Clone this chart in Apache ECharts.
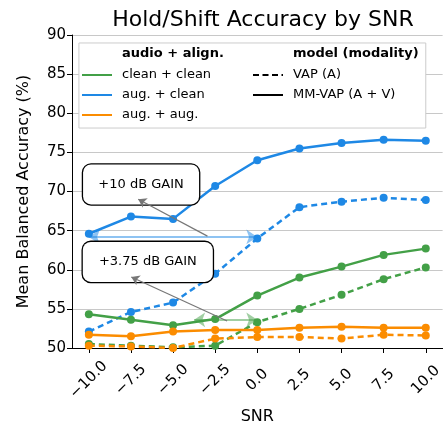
<!DOCTYPE html>
<html>
<head>
<meta charset="utf-8">
<script src="https://cdn.jsdelivr.net/npm/echarts@6/dist/echarts.min.js"></script>
<style>
  html, body { margin: 0; padding: 0; background: #fff; }
  #chart { width: 445px; height: 430px; }
</style>
</head>
<body>
<div id="chart"></div>
<script>
// SNR values (dB)
var snr = [-10, -7.5, -5, -2.5, 0, 2.5, 5, 7.5, 10];

// MM-VAP (A + V) - solid lines
var mmClean = [54.3, 53.6, 52.9, 53.7, 56.7, 59.0, 60.4, 61.9, 62.7];
var mmAugClean = [64.6, 66.8, 66.5, 70.7, 74.0, 75.5, 76.2, 76.6, 76.5];
var mmAugAug = [51.7, 51.5, 52.1, 52.3, 52.3, 52.6, 52.7, 52.6, 52.6];

// VAP (A) - dashed lines
var vapClean = [50.5, 50.3, 50.1, 50.3, 53.3, 55.0, 56.8, 58.8, 60.3];
var vapAugClean = [52.1, 54.6, 55.8, 59.5, 64.0, 68.0, 68.7, 69.2, 68.9];
var vapAugAug = [50.3, 50.2, 50.0, 51.2, 51.4, 51.4, 51.2, 51.7, 51.6];

var xTicks = [-10, -7.5, -5, -2.5, 0, 2.5, 5, 7.5, 10];

var GREEN = '#43a047', BLUE = '#1e88e5', ORANGE = '#fb8c00';
var FONT = 'DejaVu Sans';

function pairs(ys) {
  return snr.map(function (x, i) { return [x, ys[i]]; });
}

function lineSeries(name, ys, color, dashed, z) {
  return {
    name: name,
    type: 'line',
    data: pairs(ys),
    symbol: 'circle',
    symbolSize: 8,
    z: z,
    itemStyle: { color: color },
    lineStyle: { color: color, width: 2.5, type: dashed ? [6, 4] : 'solid' },
    animation: false
  };
}

function boxLabel(text, w) {
  return {
    show: true, position: 'inside', formatter: text,
    fontFamily: FONT, fontSize: 13, color: '#000',
    backgroundColor: '#fff', borderColor: '#000', borderWidth: 1.3, borderRadius: 8,
    width: w, height: 40, lineHeight: 40, align: 'center', verticalAlign: 'middle'
  };
}

// legend drawn by hand (two titled columns), offset from the legend box corner
var LX = 78, LY = 43;
function legendText(x, y, text, bold) {
  return { type: 'text', x: LX + x, y: LY + y, zlevel: 1, z: 101,
    style: { text: text, font: (bold ? 'bold ' : '') + '13px "DejaVu Sans"', fill: '#000', verticalAlign: 'middle' } };
}
function legendLine(x, y, color, dash) {
  return { type: 'line', zlevel: 1, z: 101, shape: { x1: LX + x, y1: LY + y, x2: LX + x + 30, y2: LY + y },
    style: { stroke: color, lineWidth: 2, lineDash: dash || null } };
}

var chart = echarts.init(document.getElementById('chart'));

chart.setOption({
  animation: false,
  title: {
    text: 'Hold/Shift Accuracy by SNR',
    left: 258, textAlign: 'center', top: 4,
    textStyle: { fontFamily: FONT, fontSize: 22, fontWeight: 'normal', color: '#000' }
  },
  grid: { left: 72, right: 0, top: 35, bottom: 82 },
  xAxis: {
    type: 'value', min: -11, max: 11,
    name: 'SNR', nameLocation: 'middle', nameGap: 54,
    nameTextStyle: { fontFamily: FONT, fontSize: 16, color: '#000' },
    axisLine: { show: true, onZero: false, lineStyle: { color: '#000', width: 1 } },
    axisTick: { show: true, length: 5, customValues: xTicks, lineStyle: { color: '#000' } },
    axisLabel: {
      customValues: xTicks, rotate: 45, margin: 32,
      align: 'center', verticalAlign: 'middle',
      fontFamily: FONT, fontSize: 15, color: '#000',
      formatter: function (v) { return (v < 0 ? '\u2212' : '') + Math.abs(v).toFixed(1); }
    },
    splitLine: { show: false }
  },
  yAxis: {
    type: 'value', min: 50, max: 90, interval: 5,
    name: 'Mean Balanced Accuracy (%)', nameLocation: 'middle', nameGap: 40,
    nameTextStyle: { fontFamily: FONT, fontSize: 16, color: '#000' },
    axisLine: { show: true, onZero: false, lineStyle: { color: '#000', width: 1 } },
    axisTick: { show: true, length: 5, lineStyle: { color: '#000' } },
    axisLabel: { fontFamily: FONT, fontSize: 15, color: '#000', margin: 6 },
    splitLine: { show: true, lineStyle: { color: '#c8c8c8', width: 1 } }
  },
  series: [
    lineSeries('VAP clean + clean', vapClean, GREEN, true, 2),
    lineSeries('VAP aug. + clean', vapAugClean, BLUE, true, 2),
    lineSeries('VAP aug. + aug.', vapAugAug, ORANGE, true, 2),
    lineSeries('MM-VAP clean + clean', mmClean, GREEN, false, 3),
    lineSeries('MM-VAP aug. + clean', mmAugClean, BLUE, false, 3),
    lineSeries('MM-VAP aug. + aug.', mmAugAug, ORANGE, false, 3),
    {
      // gain arrows and the boxed labels
      type: 'line', data: [], silent: true,
      markLine: {
        silent: true, animation: false, z: 6,
        label: { show: false },
        data: [
          [{ coord: [-10, 64.2], symbol: 'arrow', symbolSize: 11, lineStyle: { color: 'rgba(30,136,229,0.5)', width: 2, type: 'solid' } },
           { coord: [0, 64.2], symbol: 'arrow', symbolSize: 11 }],
          [{ coord: [-3.75, 53.6], symbol: 'arrow', symbolSize: 11, lineStyle: { color: 'rgba(67,160,71,0.5)', width: 2, type: 'solid' } },
           { coord: [0, 53.6], symbol: 'arrow', symbolSize: 11 }]
        ]
      },
      markPoint: {
        silent: true, animation: false, z: 7,
        symbol: 'rect', symbolSize: 1,
        itemStyle: { color: 'rgba(0,0,0,0)' },
        data: [
          { coord: [-6.9, 70.9], value: 0, label: boxLabel('+10 dB GAIN', 116) },
          { coord: [-6.5, 61.0], value: 0, label: boxLabel('+3.75 dB GAIN', 130) }
        ]
      },
      // white legend backdrop over the grid lines
      markArea: {
        silent: true, animation: false, z: 20,
        itemStyle: { color: '#ffffff', opacity: 1, borderColor: '#cccccc', borderWidth: 1 },
        label: { show: false },
        data: [[{ coord: [-10.59, 88.98] }, { coord: [10.0, 78.11] }]]
      }
    },
    {
      // grey pointers drawn over the boxes
      type: 'line', data: [], silent: true,
      markLine: {
        silent: true, animation: false, z: 12,
        label: { show: false },
        data: [
          [{ coord: [-2.96, 64.3], symbol: 'none', lineStyle: { color: '#777', width: 1.2, type: 'solid' } },
           { coord: [-7.07, 69.0], symbol: 'arrow', symbolSize: 8 }],
          [{ coord: [-1.79, 53.45], symbol: 'none', lineStyle: { color: '#777', width: 1.2, type: 'solid' } },
           { coord: [-7.48, 59.07], symbol: 'arrow', symbolSize: 8 }]
        ]
      }
    }
  ],
  graphic: [
    legendText(44, 11, 'audio + align.', true),
    legendText(215, 11, 'model (modality)', true),
    legendLine(4, 32, GREEN),
    legendText(44, 32, 'clean + clean'),
    legendLine(4, 52, BLUE),
    legendText(44, 52, 'aug. + clean'),
    legendLine(4, 72, ORANGE),
    legendText(44, 72, 'aug. + aug.'),
    legendLine(175, 32, '#000', [6, 3.5]),
    legendText(215, 32, 'VAP (A)'),
    legendLine(175, 52, '#000'),
    legendText(215, 52, 'MM-VAP (A + V)')
  ]
});
</script>
</body>
</html>
